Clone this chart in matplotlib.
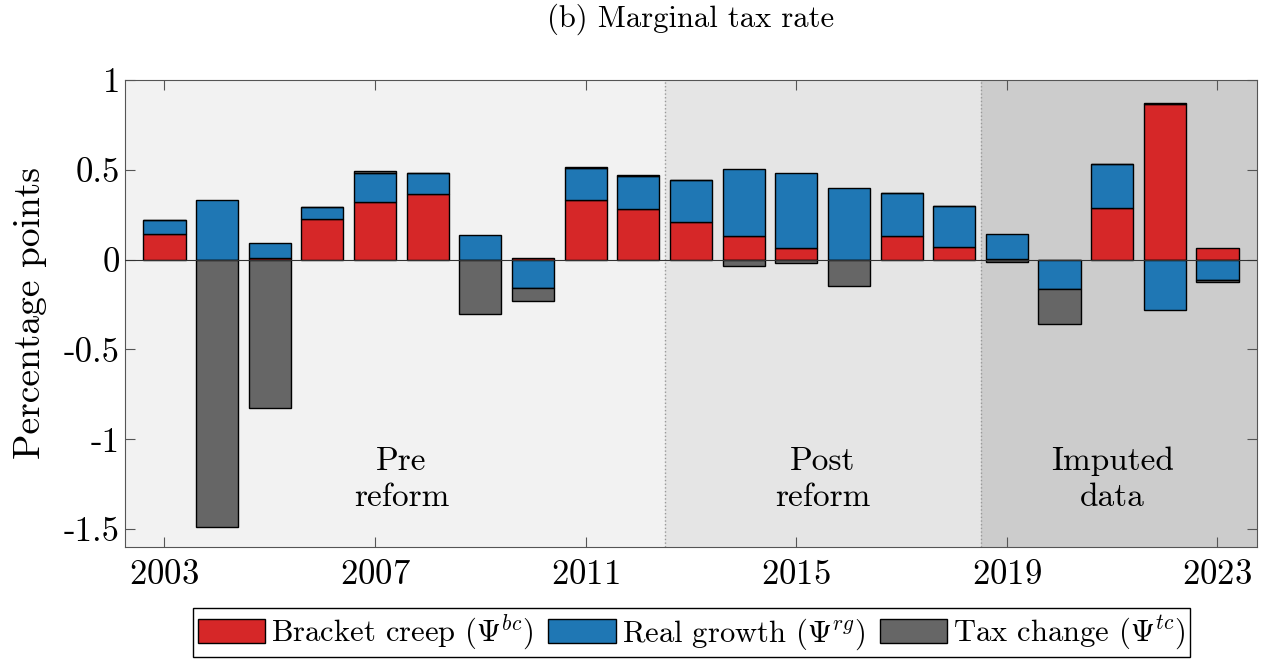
import numpy as np
import matplotlib
matplotlib.use('Agg')
import matplotlib.pyplot as plt
from matplotlib.patches import Patch

plt.rcParams['font.family'] = 'serif'
plt.rcParams['font.serif'] = ['cmr10', 'DejaVu Serif']
plt.rcParams['mathtext.fontset'] = 'cm'
plt.rcParams['axes.unicode_minus'] = False
plt.rcParams['axes.formatter.use_mathtext'] = True

years = np.arange(2003, 2024)
bracket_creep = [0.143, 0.0, 0.009, 0.226, 0.322, 0.365, 0.0, 0.01, 0.333, 0.283, 0.211,
                 0.130, 0.065, 0.0, 0.130, 0.070, 0.005, 0.0, 0.289, 0.869, 0.063]
real_growth = [0.076, 0.331, 0.084, 0.065, 0.161, 0.116, 0.137, -0.159, 0.178, 0.184, 0.230,
               0.372, 0.418, 0.400, 0.240, 0.228, 0.138, -0.161, 0.242, -0.278, -0.115]
tax_change = [0.0, -1.487, -0.828, 0.0, 0.01, 0.0, -0.302, -0.069, 0.005, 0.003, 0.0,
              -0.035, -0.019, -0.148, 0.0, 0.0, -0.015, -0.198, 0.0, 0.005, -0.009]

series = [(bracket_creep, '#d62728', r'Bracket creep ($\Psi^{bc}$)'),
          (real_growth, '#1f77b4', r'Real growth ($\Psi^{rg}$)'),
          (tax_change, '#666666', r'Tax change ($\Psi^{tc}$)')]

fig = plt.figure(figsize=(12.61, 6.63), dpi=100)
ax = fig.add_axes([0.0991, 0.175, 0.8977, 0.7043])

# period shading
ax.axvspan(2002.25, 2012.5, color='#f2f2f2', zorder=0, lw=0)
ax.axvspan(2012.5, 2018.5, color='#e5e5e5', zorder=0, lw=0)
ax.axvspan(2018.5, 2023.75, color='#cccccc', zorder=0, lw=0)
ax.axvline(2012.5, color='#999999', ls=':', lw=1, zorder=1)
ax.axvline(2018.5, color='#999999', ls=':', lw=1, zorder=1)

pos = np.zeros(len(years))
neg = np.zeros(len(years))
for vals, col, lab in series:
    v = np.array(vals)
    bottom = np.where(v >= 0, pos, neg)
    ax.bar(years, v, 0.8, bottom=bottom, color=col, edgecolor='black', linewidth=1, zorder=3)
    pos = pos + np.where(v >= 0, v, 0)
    neg = neg + np.where(v < 0, v, 0)

ax.axhline(0, color='#333333', lw=0.8, zorder=4)

ax.text(2007.5, -1.225, 'Pre\nreform', ha='center', va='center', fontsize=24, linespacing=1.3)
ax.text(2015.5, -1.225, 'Post\nreform', ha='center', va='center', fontsize=24, linespacing=1.3)
ax.text(2021.0, -1.225, 'Imputed\ndata', ha='center', va='center', fontsize=24, linespacing=1.3)

ax.set_xlim(2002.25, 2023.75)
ax.set_ylim(-1.6, 1)
ax.set_xticks([2003, 2007, 2011, 2015, 2019, 2023])
ax.set_yticks([-1.5, -1, -0.5, 0, 0.5, 1])
ax.set_yticklabels(['-1.5', '-1', '-0.5', '0', '0.5', '1'])
ax.tick_params(direction='in', top=True, right=True, labelsize=25, length=7, color='#555555')
ax.tick_params(axis='x', pad=9)
for s in ax.spines.values():
    s.set_color('#555555')
ax.set_ylabel('Percentage points', fontsize=27, labelpad=12)
ax.set_title('(b) Marginal tax rate', fontsize=22, pad=38)

handles = [Patch(facecolor=c, edgecolor='black', label=l) for _, c, l in series]
fig.legend(handles=handles, loc='lower center', bbox_to_anchor=(0.5485, 0.009), ncol=3,
           fontsize=22, frameon=True, fancybox=False, edgecolor='black', framealpha=1,
           handlelength=2.2, handleheight=0.8, handletextpad=0.2, columnspacing=0.5,
           borderpad=0.15, borderaxespad=0)

fig.savefig('out.png', dpi=100)
